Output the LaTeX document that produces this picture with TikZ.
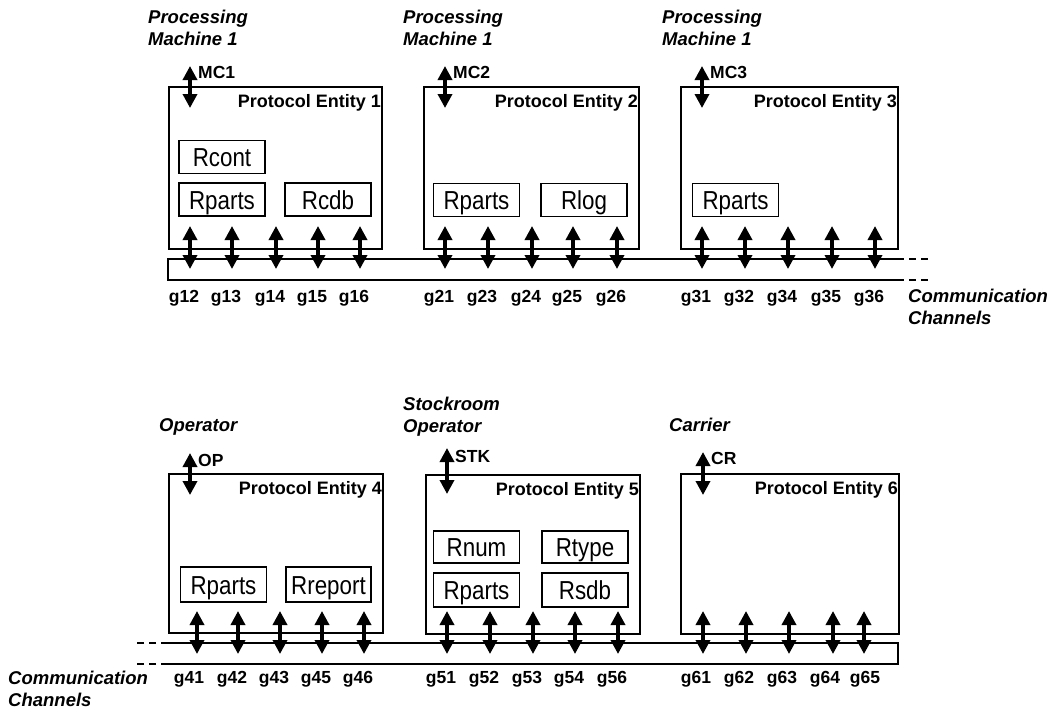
\documentclass[tikz,border=0pt]{standalone}
\usepackage{fontspec}
\setmainfont{Liberation Sans}
\newfontfamily\rfont[FakeStretch=0.86]{Liberation Sans}
\usetikzlibrary{arrows.meta,calc}
\begin{document}
\begin{tikzpicture}[x=1pt,y=-1pt,
  entity/.style={draw,line width=2pt,inner sep=0pt,anchor=north west},
  rbox/.style={draw,line width=1.6pt,inner sep=0pt,minimum width=86pt,minimum height=33pt,text height=19pt,text depth=0pt,font=\rfont\fontsize{26}{30}\selectfont},
  biarrow/.style={{Triangle[width=14pt,length=14pt]}-{Triangle[width=14pt,length=14pt]},line width=3.4pt},
  chan/.style={line width=2pt},
  chandash/.style={line width=2pt,dash pattern=on 7pt off 5pt},
  glab/.style={font=\bfseries\fontsize{17.5}{20}\selectfont,anchor=base,inner sep=0pt},
  pelab/.style={font=\bfseries\fontsize{18}{20}\selectfont,anchor=base east,inner sep=0pt},
  iflab/.style={font=\bfseries\fontsize{17.5}{20}\selectfont,anchor=base west,inner sep=0pt},
  mlab/.style={font=\bfseries\itshape\fontsize{18.5}{21.5}\selectfont,anchor=north west,inner sep=0pt,align=left}]
\useasboundingbox (0,0) rectangle (1056,713);

% ---------- protocol entities ----------
\node[entity,minimum width=213pt,minimum height=162pt] (pe1) at (168,86) {};
\node[entity,minimum width=215pt,minimum height=162pt] (pe2) at (423,86) {};
\node[entity,minimum width=217pt,minimum height=162pt] (pe3) at (680,86) {};
\node[entity,minimum width=214pt,minimum height=159pt] (pe4) at (168,473) {};
\node[entity,minimum width=214pt,minimum height=159pt] (pe5) at (425,474) {};
\node[entity,minimum width=218pt,minimum height=160pt] (pe6) at (680,473) {};

\foreach \e in {1,...,6}{
  \node[pelab] (pe\e t) at ($(pe\e.north east)+(-2,21)$) {Protocol Entity \e};
}

% ---------- resource boxes ----------
\node[rbox] (r1a) at (222,157) {Rcont};
\node[rbox] (r1b) at (222,199.5) {Rparts};
\node[rbox] (r1c) at (328,199.5) {Rcdb};
\node[rbox] (r2a) at (476.5,200) {Rparts};
\node[rbox] (r2b) at (584,200) {Rlog};
\node[rbox] (r3a) at (735.5,200) {Rparts};
\node[rbox,minimum height=35pt] (r4a) at (223.5,584.5) {Rparts};
\node[rbox,minimum height=35pt,minimum width=85pt] (r4b) at (328.5,584.5) {Rreport};
\node[rbox,minimum height=32pt] (r5a) at (476.5,547) {Rnum};
\node[rbox,minimum height=32pt] (r5b) at (585,547) {Rtype};
\node[rbox,minimum height=34pt] (r5c) at (476.5,590) {Rparts};
\node[rbox,minimum height=34pt] (r5d) at (585,590) {Rsdb};

% ---------- machine / operator labels ----------
\node[mlab] (m1) at (148,10) {Processing\\Machine 1};
\node[mlab] (m2) at (403,10) {Processing\\Machine 1};
\node[mlab] (m3) at (662,10) {Processing\\Machine 1};
\node[mlab] (m4) at (159,418) {Operator};
\node[mlab] (m5) at (403,397) {Stockroom\\Operator};
\node[mlab] (m6) at (669,418) {Carrier};

% ---------- interface arrows to the outside ----------
\foreach \x/\n/\ya/\yb/\yl in {190/MC1/66/108/78, 445/MC2/66/108/78, 702/MC3/66/108/78,
                               190/OP/453/495/466, 447/STK/448/494/462, 703/CR/452/495/464}{
  \coordinate (\n-t) at (\x,\ya);
  \coordinate (\n-b) at (\x,\yb);
  \draw[biarrow] (\n-t) -- (\n-b);
  \node[iflab] (\n) at ({\x+8},\yl) {\n};
}

% ---------- communication channels ----------
\coordinate (c1tl) at (168,259); \coordinate (c1tr) at (897,259); \coordinate (c1te) at (930,259);
\coordinate (c1bl) at (168,280); \coordinate (c1br) at (897,280); \coordinate (c1be) at (930,280);
\draw[chan] (c1tr) -- (c1tl) -- (c1bl) -- (c1br);
\draw[chandash] (c1tr) -- (c1te);
\draw[chandash] (c1br) -- (c1be);

\coordinate (c2tl) at (168,643); \coordinate (c2tr) at (898,643); \coordinate (c2te) at (137,643);
\coordinate (c2bl) at (168,664); \coordinate (c2br) at (898,664); \coordinate (c2be) at (137,664);
\draw[chan] (c2tl) -- (c2tr) -- (c2br) -- (c2bl);
\draw[chandash] (c2tl) -- (c2te);
\draw[chandash] (c2bl) -- (c2be);

\node[mlab] (cc1) at (908,289) {Communication\\Channels};
\node[mlab] (cc2) at (8,671) {Communication\\Channels};

% ---------- gate arrows and labels ----------
\foreach \x/\lx/\n in {190/184/g12, 232/226/g13, 276/270/g14, 318/312/g15, 360/354/g16,
                       445/439/g21, 488/482/g23, 532/526/g24, 573/567/g25, 617/611/g26,
                       702/696/g31, 745/739/g32, 788/782/g34, 832/826/g35, 875/869/g36}{
  \coordinate (\n-t) at (\x,226);
  \coordinate (\n-b) at (\x,269);
  \draw[biarrow] (\n-t) -- (\n-b);
  \node[glab] (\n) at (\lx,302) {\n};
}
\foreach \x/\lx/\n in {197/189/g41, 238/232/g42, 280/274/g43, 322/316/g45, 364/358/g46,
                       447/441/g51, 490/484/g52, 533/527/g53, 575/569/g54, 618/612/g56,
                       703/696/g61, 746/739/g62, 789/782/g63, 833/825/g64, 864/865/g65}{
  \coordinate (\n-t) at (\x,611);
  \coordinate (\n-b) at (\x,654);
  \draw[biarrow] (\n-t) -- (\n-b);
  \node[glab] (\n) at (\lx,683) {\n};
}
\end{tikzpicture}
\end{document}
